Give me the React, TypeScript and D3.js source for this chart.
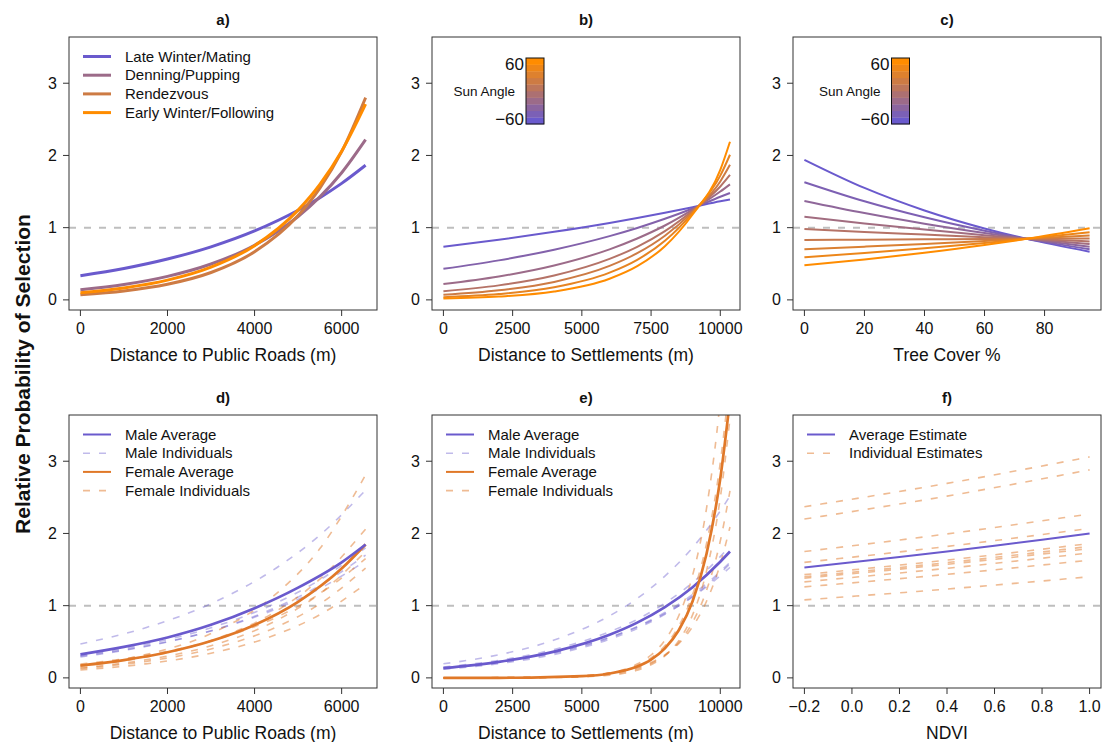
import React from 'react';
import * as d3 from 'd3';

// ---------- colours ----------
const PURPLE = '#6A5ACD';
const ORANGE = '#FF8C00';
const FEMALE = '#E07828';
const REF_GREY = '#BEBEBE';
const FONT = '"Liberation Sans", Arial, Helvetica, sans-serif';
const ramp = d3.interpolateRgb(PURPLE, ORANGE);

// ---------- a) distance to public roads by season ----------
const roadsX = [0, 1000, 2000, 3000, 4000, 5000, 5500, 6000, 6550];
const lateWinter = [0.335, 0.435, 0.566, 0.735, 0.955, 1.241, 1.415, 1.613, 1.864];
const denning = [0.14, 0.213, 0.326, 0.497, 0.757, 1.155, 1.426, 1.761, 2.22];
const rendezvous = [0.07, 0.123, 0.216, 0.379, 0.666, 1.168, 1.548, 2.052, 2.8];
const earlyWinter = [0.1, 0.166, 0.274, 0.454, 0.751, 1.243, 1.599, 2.057, 2.71];
const seasonNames = ['Late Winter/Mating', 'Denning/Pupping', 'Rendezvous', 'Early Winter/Following'];

// ---------- b) distance to settlements by sun angle (-60 .. 60) ----------
const settleX = [0, 2000, 4000, 6000, 7000, 8000, 9000, 10000, 10350];
const sunSettle = [
  [0.735, 0.832, 0.942, 1.066, 1.134, 1.207, 1.284, 1.366, 1.39],
  [0.43, 0.547, 0.695, 0.883, 0.996, 1.123, 1.266, 1.428, 1.48],
  [0.22, 0.324, 0.476, 0.7, 0.85, 1.03, 1.25, 1.5, 1.6],
  [0.12, 0.201, 0.338, 0.568, 0.735, 0.953, 1.235, 1.57, 1.73],
  [0.07, 0.132, 0.249, 0.47, 0.646, 0.888, 1.219, 1.64, 1.87],
  [0.037, 0.08, 0.174, 0.377, 0.555, 0.818, 1.205, 1.72, 2.01],
  [0.018, 0.046, 0.116, 0.293, 0.467, 0.743, 1.182, 1.8, 2.19],
];

// ---------- c) tree cover by sun angle ----------
const coverX = [0, 20, 40, 60, 74, 95];
const sunCover = [
  [1.94, 1.55, 1.238, 0.989, 0.845, 0.668],
  [1.63, 1.365, 1.143, 0.957, 0.845, 0.701],
  [1.37, 1.202, 1.055, 0.926, 0.845, 0.737],
  [1.15, 1.058, 0.973, 0.896, 0.845, 0.774],
  [0.98, 0.941, 0.905, 0.869, 0.845, 0.81],
  [0.83, 0.834, 0.838, 0.842, 0.845, 0.849],
  [0.7, 0.737, 0.775, 0.815, 0.845, 0.891],
  [0.59, 0.65, 0.716, 0.789, 0.845, 0.936],
  [0.48, 0.559, 0.652, 0.759, 0.845, 0.992],
];

// ---------- d) roads, male vs female ----------
const roadsAvgX = [0, 1000, 2000, 3000, 4000, 5000, 6000, 6550];
const maleAvgRoads = [0.326, 0.43, 0.56, 0.735, 0.965, 1.25, 1.6, 1.847];
const femaleAvgRoads = [0.172, 0.247, 0.355, 0.51, 0.733, 1.053, 1.513, 1.847];
const roadsIndX = [0, 1500, 3000, 4500, 5500, 6550];
const maleIndRoads = [
  [0.47, 0.695, 1.029, 1.522, 1.976, 2.6],
  [0.31, 0.464, 0.694, 1.038, 1.358, 1.8],
  [0.29, 0.435, 0.652, 0.977, 1.28, 1.7],
  [0.3, 0.441, 0.65, 0.956, 1.236, 1.62],
];
const femaleIndRoads = [
  [0.17, 0.323, 0.614, 1.167, 1.79, 2.81],
  [0.16, 0.287, 0.516, 0.925, 1.367, 2.06],
  [0.14, 0.25, 0.445, 0.794, 1.167, 1.75],
  [0.13, 0.228, 0.401, 0.704, 1.025, 1.52],
  [0.11, 0.194, 0.341, 0.6, 0.875, 1.3],
  [0.19, 0.312, 0.511, 0.839, 1.167, 1.65],
];

// ---------- e) settlements, male vs female ----------
const settleAvgX = [0, 2000, 4000, 6000, 7000, 8000, 9000, 10000, 10350];
const maleAvgSettle = [0.135, 0.222, 0.364, 0.597, 0.765, 0.98, 1.256, 1.609, 1.75];
const femaleAvgX = [0, 2500, 5000, 6000, 7000, 7500, 8000, 8500, 9000, 9500, 10000, 10350];
const femaleAvgSettle = [0.0002, 0.0021, 0.0233, 0.0605, 0.157, 0.254, 0.409, 0.659, 1.062, 1.712, 2.76, 3.85];
const maleIndSettle = [
  [0.195, 0.32, 0.524, 0.859, 1.1, 1.409, 1.804, 2.311, 2.52],
  [0.15, 0.243, 0.394, 0.639, 0.81, 1.035, 1.318, 1.679, 1.83],
  [0.13, 0.211, 0.343, 0.557, 0.71, 0.905, 1.154, 1.471, 1.6],
  [0.14, 0.222, 0.353, 0.561, 0.705, 0.89, 1.121, 1.413, 1.53],
  [0.12, 0.197, 0.325, 0.535, 0.685, 0.88, 1.128, 1.447, 1.58],
];
const femaleIndX = [0, 4000, 6000, 7000, 7500, 8000, 8500, 9000, 9500, 10000, 10350];
const femaleIndSettle = [
  [0.0002, 0.0096, 0.0707, 0.192, 0.317, 0.522, 0.861, 1.419, 2.34, 3.857, 5.47],
  [0.0002, 0.01, 0.0667, 0.1725, 0.277, 0.446, 0.717, 1.153, 1.854, 2.982, 4.15],
  [0.0001, 0.0046, 0.0374, 0.107, 0.181, 0.305, 0.516, 0.872, 1.475, 2.493, 3.59],
  [0.0002, 0.0086, 0.0518, 0.127, 0.2, 0.313, 0.491, 0.77, 1.208, 1.895, 2.59],
  [0.0003, 0.013, 0.0643, 0.143, 0.214, 0.319, 0.475, 0.709, 1.058, 1.578, 2.09],
];

// ---------- f) NDVI ----------
const ndviX = [-0.2, 0, 0.2, 0.4, 0.6, 0.8, 1.0];
const ndviAvg = [1.53, 1.6, 1.673, 1.749, 1.829, 1.913, 2.0];
const ndviIndX = [-0.2, 0.4, 1.0];
const ndviInd = [
  [2.37, 2.693, 3.06],
  [2.2, 2.517, 2.88],
  [1.75, 1.993, 2.27],
  [1.6, 1.82, 2.07],
  [1.43, 1.631, 1.86],
  [1.4, 1.596, 1.82],
  [1.38, 1.572, 1.79],
  [1.33, 1.517, 1.73],
  [1.26, 1.433, 1.63],
  [1.08, 1.23, 1.4],
];

// ---------- axes ----------
const yTicks = [0, 1, 2, 3];
const roadsTicks = [0, 2000, 4000, 6000];
const settleTicks = [0, 2500, 5000, 7500, 10000];
const coverTicks = [0, 20, 40, 60, 80];
const ndviTicks = [-0.2, 0, 0.2, 0.4, 0.6, 0.8, 1.0];

type Series = { x: number[]; y: number[]; color: string; width: number; dash?: string; opacity?: number };
type LegendItem = { label: string; color: string; width: number; dash?: string; opacity?: number };

interface PanelSpec {
  id: string;
  title: string;
  left: number;
  top: number;
  xDomain: [number, number];
  xTicks: number[];
  xFormat: (v: number) => string;
  xTitle: string;
  series: Series[];
  legend?: LegendItem[];
  colorbarX?: number;
}

const W = 308;
const H = 273;
const yDomain: [number, number] = [-0.14, 3.64];
const IND_DASH = '7,9';
const maleInd = 0.42;
const femaleInd = 0.5;

const fmtInt = (v: number) => String(v);
const fmtNdvi = (v: number) => (v < 0 ? '\u2212' : '') + Math.abs(v).toFixed(1);

const sunSeries = (xs: number[], rows: number[][]): Series[] =>
  rows.map((r, i) => ({ x: xs, y: r, color: ramp(i / (rows.length - 1)), width: 2 }));

const sexLegend: LegendItem[] = [
  { label: 'Male Average', color: PURPLE, width: 2 },
  { label: 'Male Individuals', color: PURPLE, width: 1.6, dash: IND_DASH, opacity: maleInd },
  { label: 'Female Average', color: FEMALE, width: 2 },
  { label: 'Female Individuals', color: FEMALE, width: 1.6, dash: IND_DASH, opacity: femaleInd },
];

const panels: PanelSpec[] = [
  {
    id: 'a', title: 'a)', left: 69, top: 37, xDomain: [-262, 6812], xTicks: roadsTicks, xFormat: fmtInt,
    xTitle: 'Distance to Public Roads (m)',
    series: [lateWinter, denning, rendezvous, earlyWinter].map((s, i) => ({
      x: roadsX, y: s, color: ramp(i / 3), width: 3,
    })),
    legend: seasonNames.map((n, i) => ({ label: n, color: ramp(i / 3), width: 3 })),
  },
  {
    id: 'b', title: 'b)', left: 432, top: 37, xDomain: [-412, 10712], xTicks: settleTicks, xFormat: fmtInt,
    xTitle: 'Distance to Settlements (m)', series: sunSeries(settleX, sunSettle), colorbarX: 526,
  },
  {
    id: 'c', title: 'c)', left: 793, top: 37, xDomain: [-3.8, 98.8], xTicks: coverTicks, xFormat: fmtInt,
    xTitle: 'Tree Cover %', series: sunSeries(coverX, sunCover), colorbarX: 891.5,
  },
  {
    id: 'd', title: 'd)', left: 69, top: 415, xDomain: [-262, 6812], xTicks: roadsTicks, xFormat: fmtInt,
    xTitle: 'Distance to Public Roads (m)',
    series: [
      ...maleIndRoads.map(r => ({ x: roadsIndX, y: r, color: PURPLE, width: 1.6, dash: IND_DASH, opacity: maleInd })),
      ...femaleIndRoads.map(r => ({ x: roadsIndX, y: r, color: FEMALE, width: 1.6, dash: IND_DASH, opacity: femaleInd })),
      { x: roadsAvgX, y: femaleAvgRoads, color: FEMALE, width: 2.7 },
      { x: roadsAvgX, y: maleAvgRoads, color: PURPLE, width: 2.7 },
    ],
    legend: sexLegend,
  },
  {
    id: 'e', title: 'e)', left: 432, top: 415, xDomain: [-412, 10712], xTicks: settleTicks, xFormat: fmtInt,
    xTitle: 'Distance to Settlements (m)',
    series: [
      ...maleIndSettle.map(r => ({ x: settleAvgX, y: r, color: PURPLE, width: 1.6, dash: IND_DASH, opacity: maleInd })),
      ...femaleIndSettle.map(r => ({ x: femaleIndX, y: r, color: FEMALE, width: 1.6, dash: IND_DASH, opacity: femaleInd })),
      { x: settleAvgX, y: maleAvgSettle, color: PURPLE, width: 2.7 },
      { x: femaleAvgX, y: femaleAvgSettle, color: FEMALE, width: 2.7 },
    ],
    legend: sexLegend,
  },
  {
    id: 'f', title: 'f)', left: 793, top: 415, xDomain: [-0.248, 1.048], xTicks: ndviTicks, xFormat: fmtNdvi,
    xTitle: 'NDVI',
    series: [
      ...ndviInd.map(r => ({ x: ndviIndX, y: r, color: FEMALE, width: 1.6, dash: IND_DASH, opacity: femaleInd })),
      { x: ndviX, y: ndviAvg, color: PURPLE, width: 2 },
    ],
    legend: [
      { label: 'Average Estimate', color: PURPLE, width: 2 },
      { label: 'Individual Estimates', color: FEMALE, width: 1.6, dash: IND_DASH, opacity: femaleInd },
    ],
  },
];

const Colorbar: React.FC<{ x: number }> = ({ x }) => {
  const top = 58;
  const bottom = 124;
  const bands = 10;
  const bh = (bottom - top) / bands;
  return (
    <g>
      {d3.range(bands).map(i => (
        <rect key={i} x={x} y={bottom - (i + 1) * bh} width={18} height={bh + 0.3}
          fill={ramp(i / (bands - 1))} />
      ))}
      <rect x={x} y={top} width={18} height={bottom - top} fill="none" stroke="#111" strokeWidth={1} />
      <text x={x - 2} y={64} dy="0.35em" textAnchor="end" fontSize={17}>60</text>
      <text x={x - 2} y={119} dy="0.35em" textAnchor="end" fontSize={17}>{'\u221260'}</text>
      <text x={x - 11} y={91} dy="0.35em" textAnchor="end" fontSize={13.5}>Sun Angle</text>
    </g>
  );
};

const Panel: React.FC<{ spec: PanelSpec }> = ({ spec }) => {
  const x = d3.scaleLinear().domain(spec.xDomain).range([spec.left, spec.left + W]);
  const y = d3.scaleLinear().domain(yDomain).range([spec.top + H, spec.top]);
  const line = d3.line<[number, number]>()
    .x(d => x(d[0]))
    .y(d => y(d[1]))
    .curve(d3.curveMonotoneX);
  const bottom = spec.top + H;
  const clipId = `clip-${spec.id}`;

  return (
    <g>
      <defs>
        <clipPath id={clipId}>
          <rect x={spec.left} y={spec.top} width={W} height={H} />
        </clipPath>
      </defs>

      <g clipPath={`url(#${clipId})`}>
        <line x1={spec.left} x2={spec.left + W} y1={y(1)} y2={y(1)}
          stroke={REF_GREY} strokeWidth={2} strokeDasharray="7,8" />
        {spec.series.map((s, i) => (
          <path key={i}
            d={line(s.x.map((xv, j) => [xv, s.y[j]] as [number, number])) || ''}
            fill="none" stroke={s.color} strokeWidth={s.width}
            strokeDasharray={s.dash} strokeOpacity={s.opacity ?? 1} />
        ))}
      </g>

      <rect x={spec.left} y={spec.top} width={W} height={H} fill="none" stroke="#333" strokeWidth={1} />

      {/* x axis */}
      {spec.xTicks.map(t => (
        <g key={t}>
          <line x1={x(t)} x2={x(t)} y1={bottom} y2={bottom + 6} stroke="#333" />
          <text x={x(t)} y={bottom + 18} dy="0.35em" textAnchor="middle" fontSize={16}>{spec.xFormat(t)}</text>
        </g>
      ))}
      <text x={spec.left + W / 2} y={bottom + 45} dy="0.35em" textAnchor="middle" fontSize={17.5}>{spec.xTitle}</text>

      {/* y axis */}
      {yTicks.map(t => (
        <g key={t}>
          <line x1={spec.left - 6} x2={spec.left} y1={y(t)} y2={y(t)} stroke="#333" />
          <text x={spec.left - 12} y={y(t)} dy="0.35em" textAnchor="end" fontSize={16}>{t}</text>
        </g>
      ))}

      <text x={spec.left + W / 2} y={spec.top - 17} dy="0.35em" textAnchor="middle" fontSize={15} fontWeight="bold">
        {spec.title}
      </text>

      {spec.legend && spec.legend.map((it, i) => {
        const ly = spec.top + 19.5 + i * 18.7;
        return (
          <g key={it.label}>
            <line x1={spec.left + 14} x2={spec.left + 42} y1={ly} y2={ly}
              stroke={it.color} strokeWidth={it.width} strokeDasharray={it.dash}
              strokeOpacity={it.opacity ?? 1} />
            <text x={spec.left + 56} y={ly} dy="0.35em" fontSize={15}>{it.label}</text>
          </g>
        );
      })}

      {spec.colorbarX !== undefined && <Colorbar x={spec.colorbarX} />}
    </g>
  );
};

export default function App() {
  return (
    <svg width={1107} height={742} viewBox="0 0 1107 742"
      style={{ position: 'absolute', left: 0, top: 0, background: '#fff' }}
      fontFamily={FONT} fill="#111">
      {panels.map(p => <Panel key={p.id} spec={p} />)}
      <text transform="translate(23,374) rotate(-90)" textAnchor="middle" dy="0.35em"
        fontSize={21} fontWeight="bold">Relative Probability of Selection</text>
    </svg>
  );
}
